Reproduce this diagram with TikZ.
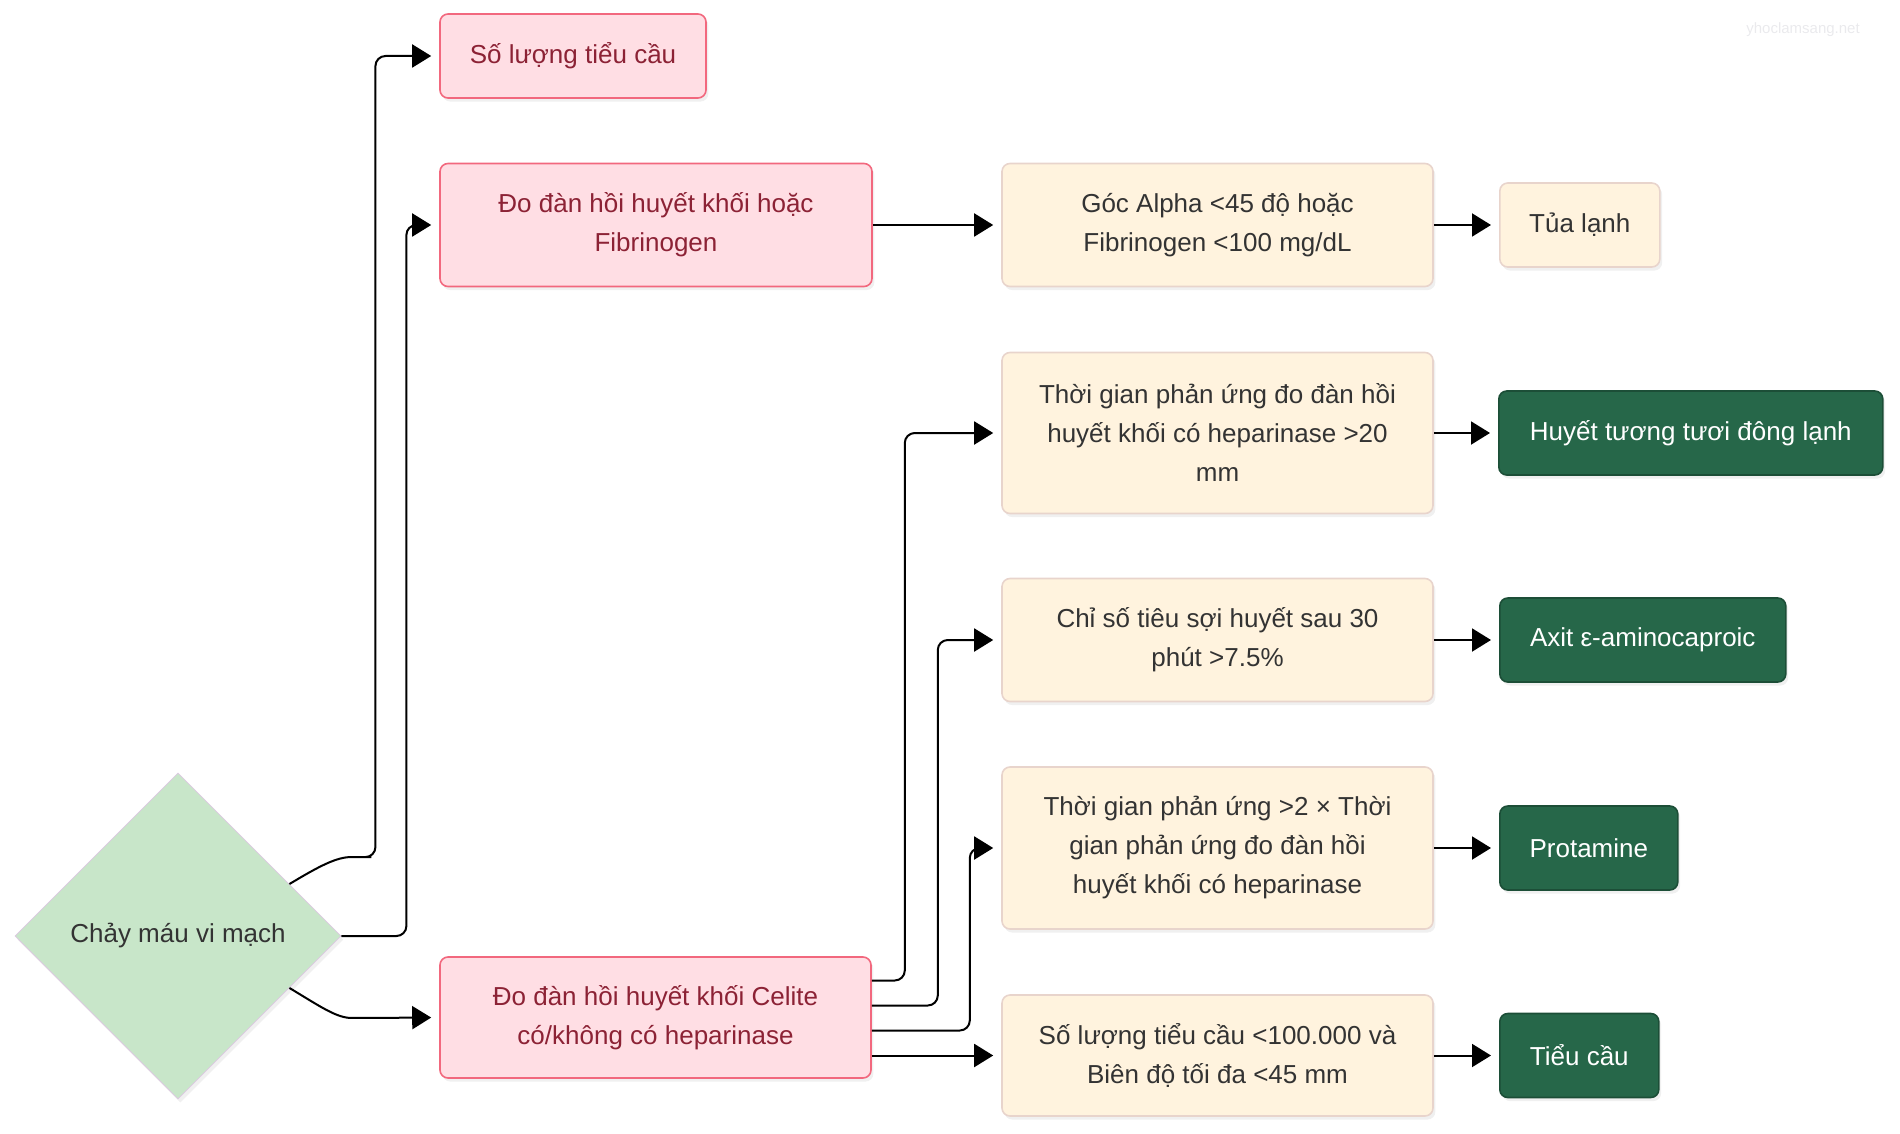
\documentclass[tikz,border=0pt]{standalone}
\usepackage{fontspec}
\setmainfont{Liberation Sans}
\usepackage{tikz}
\usetikzlibrary{arrows.meta, shapes.geometric, shadows, calc}
\usepackage{xcolor}

\definecolor{pinkfill}{HTML}{FFDEE4}
\definecolor{pinkline}{HTML}{F2687E}
\definecolor{pinktext}{HTML}{8C2235}
\definecolor{creamfill}{HTML}{FFF3DE}
\definecolor{creamline}{HTML}{E8D4CC}
\definecolor{greenfill}{HTML}{266749}
\definecolor{greenline}{HTML}{1C4E37}
\definecolor{mintfill}{HTML}{C8E6C9}
\definecolor{mintline}{HTML}{DCC8E2}
\definecolor{darktext}{HTML}{333333}

\tikzset{
  boxbase/.style={rectangle, rounded corners=4pt, line width=0.8pt, align=center,
    inner sep=0pt, font=\fontsize{13pt}{19.5pt}\selectfont,
    drop shadow={opacity=0.12, shadow xshift=1.2pt, shadow yshift=-1.8pt}},
  pinkbox/.style={boxbase, draw=pinkline, fill=pinkfill, text=pinktext},
  creambox/.style={boxbase, draw=creamline, fill=creamfill, text=darktext,
    minimum width=215.5pt},
  greenbox/.style={boxbase, draw=greenline, fill=greenfill, text=white,
    minimum height=42pt, anchor=west},
  flow/.style={line width=1pt, rounded corners=5pt, shorten >=4pt,
    -{Triangle[length=9.5pt, width=11.5pt]}}
}

\begin{document}
\begin{tikzpicture}[x=0.5pt, y=-0.5pt]
  \useasboundingbox (0,0) rectangle (1900,1134);

  % start
  \node[diamond, aspect=1, minimum width=163pt, minimum height=163pt, inner sep=0pt,
        draw=mintline, fill=mintfill, text=darktext, font=\fontsize{13pt}{15pt}\selectfont,
        drop shadow={opacity=0.12, shadow xshift=1.2pt, shadow yshift=-1.8pt}]
        (chay) at (178,936) {Chảy máu vi mạch};

  % tests
  \node[pinkbox, minimum width=133pt, minimum height=42pt] (so) at (573,56) {Số lượng tiểu cầu};
  \node[pinkbox, minimum width=216pt, minimum height=61.5pt] (fib) at (656,225)
        {Đo đàn hồi huyết khối hoặc\\Fibrinogen};
  \node[pinkbox, minimum width=215.5pt, minimum height=60.5pt] (celite) at (655.5,1017.5)
        {Đo đàn hồi huyết khối Celite\\có/không có heparinase};

  % criteria
  \node[creambox, minimum height=61.5pt] (alpha) at (1217.5,225)
        {Góc Alpha <45 độ hoặc\\Fibrinogen <100 mg/dL};
  \node[creambox, minimum height=80.5pt] (tg20) at (1217.5,433)
        {Thời gian phản ứng đo đàn hồi\\huyết khối có heparinase >20\\mm};
  \node[creambox, minimum height=61.5pt] (chiso) at (1217.5,640)
        {Chỉ số tiêu sợi huyết sau 30\\phút >7.5\%};
  \node[creambox, minimum height=81pt] (tg2x) at (1217.5,848)
        {Thời gian phản ứng >2 × Thời\\gian phản ứng đo đàn hồi\\huyết khối có heparinase};
  \node[creambox, minimum height=60.5pt] (slt) at (1217.5,1055.5)
        {Số lượng tiểu cầu <100.000 và\\Biên độ tối đa <45 mm};

  % treatments
  \node[creambox, minimum width=80pt, minimum height=42pt, anchor=west] (tua) at (1499,225) {Tủa lạnh};
  \node[greenbox, minimum width=192pt] (huyet) at (1498,433) {Huyết tương tươi đông lạnh};
  \node[greenbox, minimum width=143pt] (axit) at (1499,640) {Axit ε-aminocaproic};
  \node[greenbox, minimum width=89pt] (prot) at (1499,848) {Protamine};
  \node[greenbox, minimum width=79.5pt] (tieucau) at (1499,1055.5) {Tiểu cầu};

  \node[text=blue!8!gray!15, font=\fontsize{7.5pt}{9pt}\selectfont] (web) at (1803,30) {yhoclamsang.net};

  % connectors from start
  \draw[flow] (chay.25) .. controls +(30,-18) and +(-25,0) .. ++(72,-27) -- ++(14,0) |- (so.west);
  \draw[flow] (chay.east) -- ++(65,0) |- (fib.west);
  \draw[flow] (chay.-25) .. controls +(30,18) and +(-25,0) .. ++(72,30) -- (celite.west);

  \draw[flow] (fib.east) -- (alpha.west);

  % connectors from celite
  \draw[flow] ($(celite.east)+(0,-37)$) -- ++(33,0) |- (tg20.west);
  \draw[flow] ($(celite.east)+(0,-12)$) -- ++(66,0) |- (chiso.west);
  \draw[flow] ($(celite.east)+(0,13)$) -- ++(98,0) |- (tg2x.west);
  \draw[flow] (celite.east |- slt.west) -- (slt.west);

  % to treatments
  \draw[flow] (alpha.east) -- (tua.west);
  \draw[flow] (tg20.east) -- (huyet.west);
  \draw[flow] (chiso.east) -- (axit.west);
  \draw[flow] (tg2x.east) -- (prot.west);
  \draw[flow] (slt.east) -- (tieucau.west);
\end{tikzpicture}
\end{document}
